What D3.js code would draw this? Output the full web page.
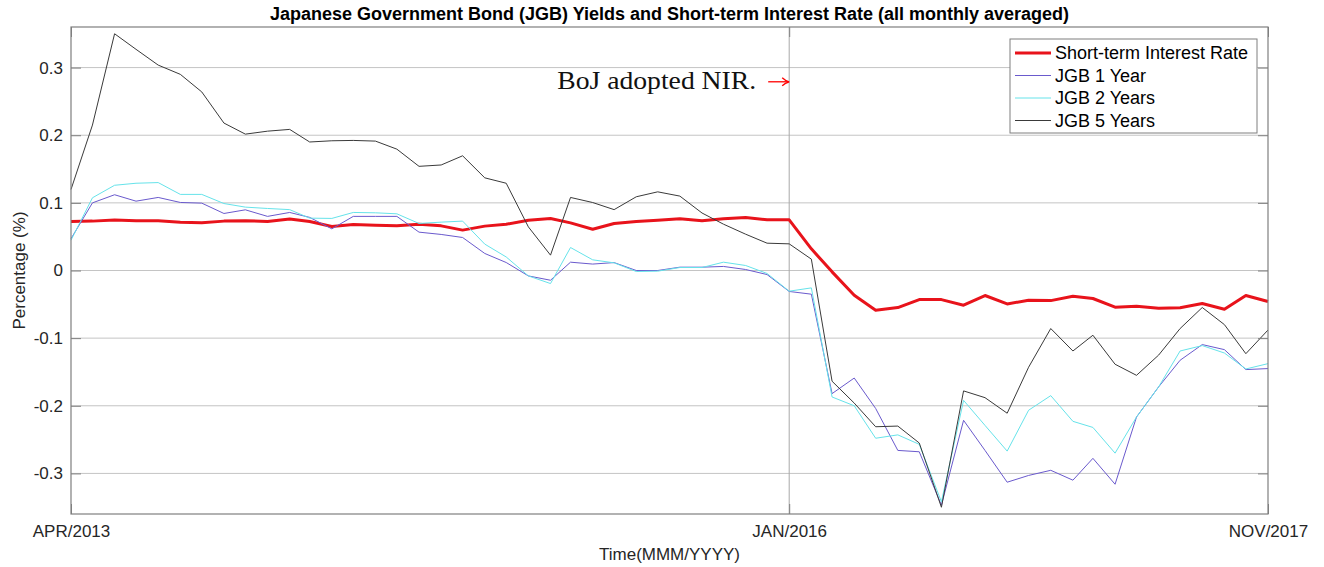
<!DOCTYPE html>
<html>
<head>
<meta charset="utf-8">
<script src="https://cdn.jsdelivr.net/npm/d3@7"></script>
<style>
  body { margin: 0; background: #fff; }
  svg { font-family: "Liberation Sans", Arial, Helvetica, sans-serif; }
</style>
</head>
<body>
<div id="chart"></div>
<script>
// monthly averages, APR/2013 .. NOV/2017 (56 months)
const startMonth = new Date(2013, 3, 1);
const endMonth = new Date(2017, 10, 1);
const months = d3.timeMonth.range(startMonth, d3.timeMonth.offset(endMonth, 1));

const xTickDates = [new Date(2013, 3, 1), new Date(2016, 0, 1), new Date(2017, 10, 1)];
const xTickLabels = ["APR/2013", "JAN/2016", "NOV/2017"];
const yTicks = [-0.3, -0.2, -0.1, 0, 0.1, 0.2, 0.3];

const shortRate = [
  0.0725, 0.073, 0.0745, 0.0735, 0.0735, 0.0715, 0.0705, 0.073, 0.0735, 0.0725,
  0.076, 0.0725, 0.065, 0.068, 0.067, 0.066, 0.0684, 0.066, 0.0597, 0.0656,
  0.0684, 0.0744, 0.0768, 0.0704, 0.061, 0.0695, 0.0725, 0.0744, 0.0764, 0.0734,
  0.0764, 0.0784, 0.0749, 0.0749, 0.032, -0.002, -0.0365, -0.0587, -0.0548, -0.043,
  -0.043, -0.0513, -0.037, -0.0494, -0.044, -0.0445, -0.038, -0.0414, -0.0543, -0.0528,
  -0.0558, -0.055, -0.0489, -0.0573, -0.037, -0.0458
];
const jgb1 = [
  0.047, 0.100, 0.112, 0.1025, 0.108, 0.1006, 0.0996, 0.0843, 0.0897, 0.080,
  0.0858, 0.0785, 0.0616, 0.080, 0.080, 0.080, 0.0567, 0.0533, 0.0488, 0.0252,
  0.0118, -0.008, -0.0144, 0.0123, 0.0095, 0.0117, 0.000, 0.000, 0.0049, 0.0049,
  0.006, 0.0015, -0.006, -0.031, -0.035, -0.182, -0.159, -0.204, -0.266, -0.268,
  -0.347, -0.2215, -0.266, -0.313, -0.303, -0.2954, -0.310, -0.2777, -0.316, -0.2166,
  -0.172, -0.1327, -0.1095, -0.117, -0.1465, -0.145
];
const jgb2 = [
  0.0448, 0.1075, 0.126, 0.129, 0.130, 0.1125, 0.1125, 0.099, 0.0937, 0.0917,
  0.090, 0.0774, 0.077, 0.0858, 0.0853, 0.0838, 0.0695, 0.0715, 0.073, 0.039,
  0.020, -0.008, -0.0193, 0.034, 0.0158, 0.0113, -0.0015, -0.001, 0.0044, 0.0044,
  0.0123, 0.0074, -0.0044, -0.0306, -0.0257, -0.187, -0.200, -0.248, -0.243, -0.257,
  -0.342, -0.192, -0.229, -0.267, -0.2066, -0.185, -0.223, -0.232, -0.270, -0.2166,
  -0.172, -0.119, -0.111, -0.122, -0.1456, -0.1377
];
const jgb5 = [
  0.1198, 0.215, 0.350, 0.327, 0.3037, 0.290, 0.264, 0.218, 0.2016, 0.206,
  0.2086, 0.190, 0.1918, 0.1923, 0.1913, 0.1794, 0.154, 0.156, 0.1696, 0.137,
  0.129, 0.0645, 0.0227, 0.108, 0.1005, 0.090, 0.109, 0.1163, 0.110, 0.085,
  0.0685, 0.0537, 0.0404, 0.0394, 0.0168, -0.1637, -0.196, -0.231, -0.230, -0.255,
  -0.350, -0.178, -0.188, -0.211, -0.143, -0.0858, -0.119, -0.0957, -0.1386, -0.155,
  -0.125, -0.0858, -0.0547, -0.080, -0.123, -0.088
];

const seriesNames = ["Short-term Interest Rate", "JGB 1 Year", "JGB 2 Years", "JGB 5 Years"];
const seriesValues = [shortRate, jgb1, jgb2, jgb5];
const seriesColors = ["#e8131b", "#6a5acd", "#66e3ea", "#3a3a3a"];
const seriesWidths = [3, 1, 1, 1];

const width = 1324, height = 567;
const margin = { top: 27, right: 56, bottom: 53, left: 71 };
const innerW = width - margin.left - margin.right;
const innerH = height - margin.top - margin.bottom;

const svg = d3.select("#chart").append("svg")
  .attr("width", width)
  .attr("height", height);

const x = d3.scaleTime().domain([startMonth, endMonth]).range([margin.left, margin.left + innerW]);
const y = d3.scaleLinear().domain([-0.36, 0.36]).range([margin.top + innerH, margin.top]);

// grid
svg.append("g")
  .selectAll("line.hgrid")
  .data(yTicks)
  .enter().append("line")
  .attr("x1", margin.left).attr("x2", margin.left + innerW)
  .attr("y1", d => y(d)).attr("y2", d => y(d))
  .attr("stroke", "#c4c4c4").attr("stroke-width", 1);
svg.append("line")
  .attr("x1", x(xTickDates[1])).attr("x2", x(xTickDates[1]))
  .attr("y1", margin.top).attr("y2", margin.top + innerH)
  .attr("stroke", "#a8a8a8").attr("stroke-width", 1);

// lines
const line = d3.line().x((d, i) => x(months[i])).y(d => y(d));
seriesValues.forEach((vals, k) => {
  svg.append("path")
    .datum(vals)
    .attr("fill", "none")
    .attr("stroke", seriesColors[k])
    .attr("stroke-width", seriesWidths[k])
    .attr("stroke-linejoin", "round")
    .attr("d", line);
});

// axes (MATLAB style, ticks inside, box)
const axisColor = "#7f7f7f";
const yAxisL = d3.axisLeft(y).tickValues(yTicks).tickSize(-10)
  .tickFormat(d => d === 0 ? "0" : String(+d.toFixed(1)));
const gy = svg.append("g").attr("transform", `translate(${margin.left},0)`).call(yAxisL);
gy.select(".domain").remove();
gy.selectAll(".tick line").attr("stroke", axisColor);
gy.selectAll(".tick text").attr("font-size", 17).attr("fill", "#262626").attr("x", -8);

const yAxisR = d3.axisRight(y).tickValues(yTicks).tickSize(-10).tickFormat("");
const gyr = svg.append("g").attr("transform", `translate(${margin.left + innerW},0)`).call(yAxisR);
gyr.select(".domain").remove();
gyr.selectAll(".tick line").attr("stroke", axisColor);

const xAxis = d3.axisBottom(x).tickValues(xTickDates).tickSize(-10)
  .tickFormat((d, i) => xTickLabels[i]);
const gx = svg.append("g").attr("transform", `translate(0,${margin.top + innerH})`).call(xAxis);
gx.select(".domain").remove();
gx.selectAll(".tick line").attr("stroke", axisColor);
gx.selectAll(".tick text").attr("font-size", 17).attr("fill", "#262626").attr("y", 11);

const xAxisT = d3.axisTop(x).tickValues(xTickDates).tickSize(-10).tickFormat("");
const gxt = svg.append("g").attr("transform", `translate(0,${margin.top})`).call(xAxisT);
gxt.select(".domain").remove();
gxt.selectAll(".tick line").attr("stroke", axisColor);

svg.append("rect")
  .attr("x", margin.left).attr("y", margin.top)
  .attr("width", innerW).attr("height", innerH)
  .attr("fill", "none").attr("stroke", axisColor).attr("stroke-width", 1.2);

// labels
svg.append("text")
  .attr("x", margin.left + innerW / 2).attr("y", 20)
  .attr("text-anchor", "middle")
  .attr("font-weight", "bold").attr("font-size", 18).attr("fill", "#000")
  .text("Japanese Government Bond (JGB) Yields and Short-term Interest Rate (all monthly averaged)");

svg.append("text")
  .attr("x", margin.left + innerW / 2).attr("y", 560)
  .attr("text-anchor", "middle")
  .attr("font-size", 17).attr("fill", "#262626")
  .text("Time(MMM/YYYY)");

svg.append("text")
  .attr("transform", `translate(25,${margin.top + innerH / 2}) rotate(-90)`)
  .attr("text-anchor", "middle")
  .attr("font-size", 17).attr("fill", "#262626")
  .text("Percentage (%)");

// annotation
const annX = x(xTickDates[1]);
const annY = y(0.279);
svg.append("text")
  .attr("x", annX - 232).attr("y", annY + 7)
  .attr("textLength", 199).attr("lengthAdjust", "spacingAndGlyphs")
  .attr("font-family", "'Liberation Serif', 'DejaVu Serif', serif")
  .attr("font-size", 25).attr("fill", "#111")
  .text("BoJ adopted NIR.");
svg.append("line")
  .attr("x1", annX - 21).attr("x2", annX - 1)
  .attr("y1", annY).attr("y2", annY)
  .attr("stroke", "#ff0000").attr("stroke-width", 1.3);
svg.append("path")
  .attr("d", `M${annX - 7},${annY - 4} Q${annX - 4},${annY - 1} ${annX},${annY} Q${annX - 4},${annY + 1} ${annX - 7},${annY + 4}`)
  .attr("fill", "none").attr("stroke", "#ff0000").attr("stroke-width", 1.3);

// legend
const legend = svg.append("g").attr("transform", "translate(1010,39)");
legend.append("rect")
  .attr("width", 247).attr("height", 94)
  .attr("fill", "#fff").attr("stroke", "#7f7f7f").attr("stroke-width", 1);
seriesNames.forEach((name, k) => {
  const cy = 14 + k * 22.5;
  legend.append("line")
    .attr("x1", 5).attr("x2", 41).attr("y1", cy).attr("y2", cy)
    .attr("stroke", seriesColors[k]).attr("stroke-width", seriesWidths[k]);
  legend.append("text")
    .attr("x", 45).attr("y", cy).attr("dy", "0.35em")
    .attr("font-size", 18).attr("fill", "#000")
    .text(name);
});
</script>
</body>
</html>
